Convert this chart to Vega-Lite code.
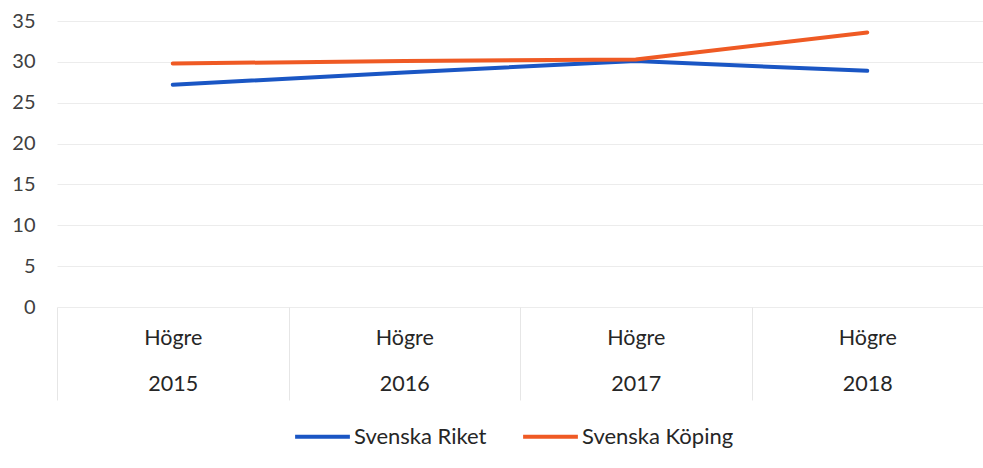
{
  "$schema": "https://vega.github.io/schema/vega-lite/v6.json",
  "width": 926,
  "height": 286,
  "autosize": {"type": "none"},
  "padding": {"left": 57, "top": 21, "right": 0, "bottom": 161},
  "background": "white",
  "config": {
    "view": {"stroke": null},
    "font": "Lato"
  },
  "data": {
    "values": [
      {"year": "2015", "series": "Svenska Riket", "value": 27.2},
      {"year": "2016", "series": "Svenska Riket", "value": 28.7},
      {"year": "2017", "series": "Svenska Riket", "value": 30.1},
      {"year": "2018", "series": "Svenska Riket", "value": 28.9},
      {"year": "2015", "series": "Svenska Köping", "value": 29.8},
      {"year": "2016", "series": "Svenska Köping", "value": 30.1},
      {"year": "2017", "series": "Svenska Köping", "value": 30.3},
      {"year": "2018", "series": "Svenska Köping", "value": 33.6}
    ]
  },
  "mark": {"type": "line", "strokeWidth": 4, "strokeCap": "round", "strokeJoin": "round"},
  "encoding": {
    "x": {
      "field": "year",
      "type": "nominal",
      "scale": {"paddingInner": 0, "paddingOuter": 0},
      "axis": {
        "title": null,
        "domain": false,
        "grid": false,
        "ticks": true,
        "tickBand": "extent",
        "tickSize": 93,
        "tickColor": "#e6e6e6",
        "tickWidth": 1,
        "labelAngle": 0,
        "labelExpr": "datum.value ? ['Högre', datum.value] : ''",
        "labelLineHeight": 46,
        "labelPadding": -73,
        "labelFontSize": 21.5,
        "labelColor": "#262626"
      }
    },
    "y": {
      "field": "value",
      "type": "quantitative",
      "scale": {"domain": [0, 35], "nice": false, "zero": true},
      "axis": {
        "title": null,
        "values": [0, 5, 10, 15, 20, 25, 30, 35],
        "domain": false,
        "ticks": false,
        "grid": true,
        "gridColor": "#ececec",
        "gridWidth": 1,
        "labelPadding": 22,
        "labelFontSize": 20,
        "labelColor": "#404040"
      }
    },
    "color": {
      "field": "series",
      "type": "nominal",
      "scale": {"domain": ["Svenska Riket", "Svenska Köping"], "range": ["#1a56c4", "#ef5a24"]},
      "legend": {
        "title": null,
        "orient": "none",
        "legendX": 236,
        "legendY": 386,
        "direction": "horizontal",
        "symbolType": "stroke",
        "symbolSize": 3000,
        "symbolStrokeWidth": 4,
        "labelFontSize": 22,
        "labelColor": "#262626",
        "labelOffset": 2,
        "columnPadding": 28
      }
    }
  }
}
